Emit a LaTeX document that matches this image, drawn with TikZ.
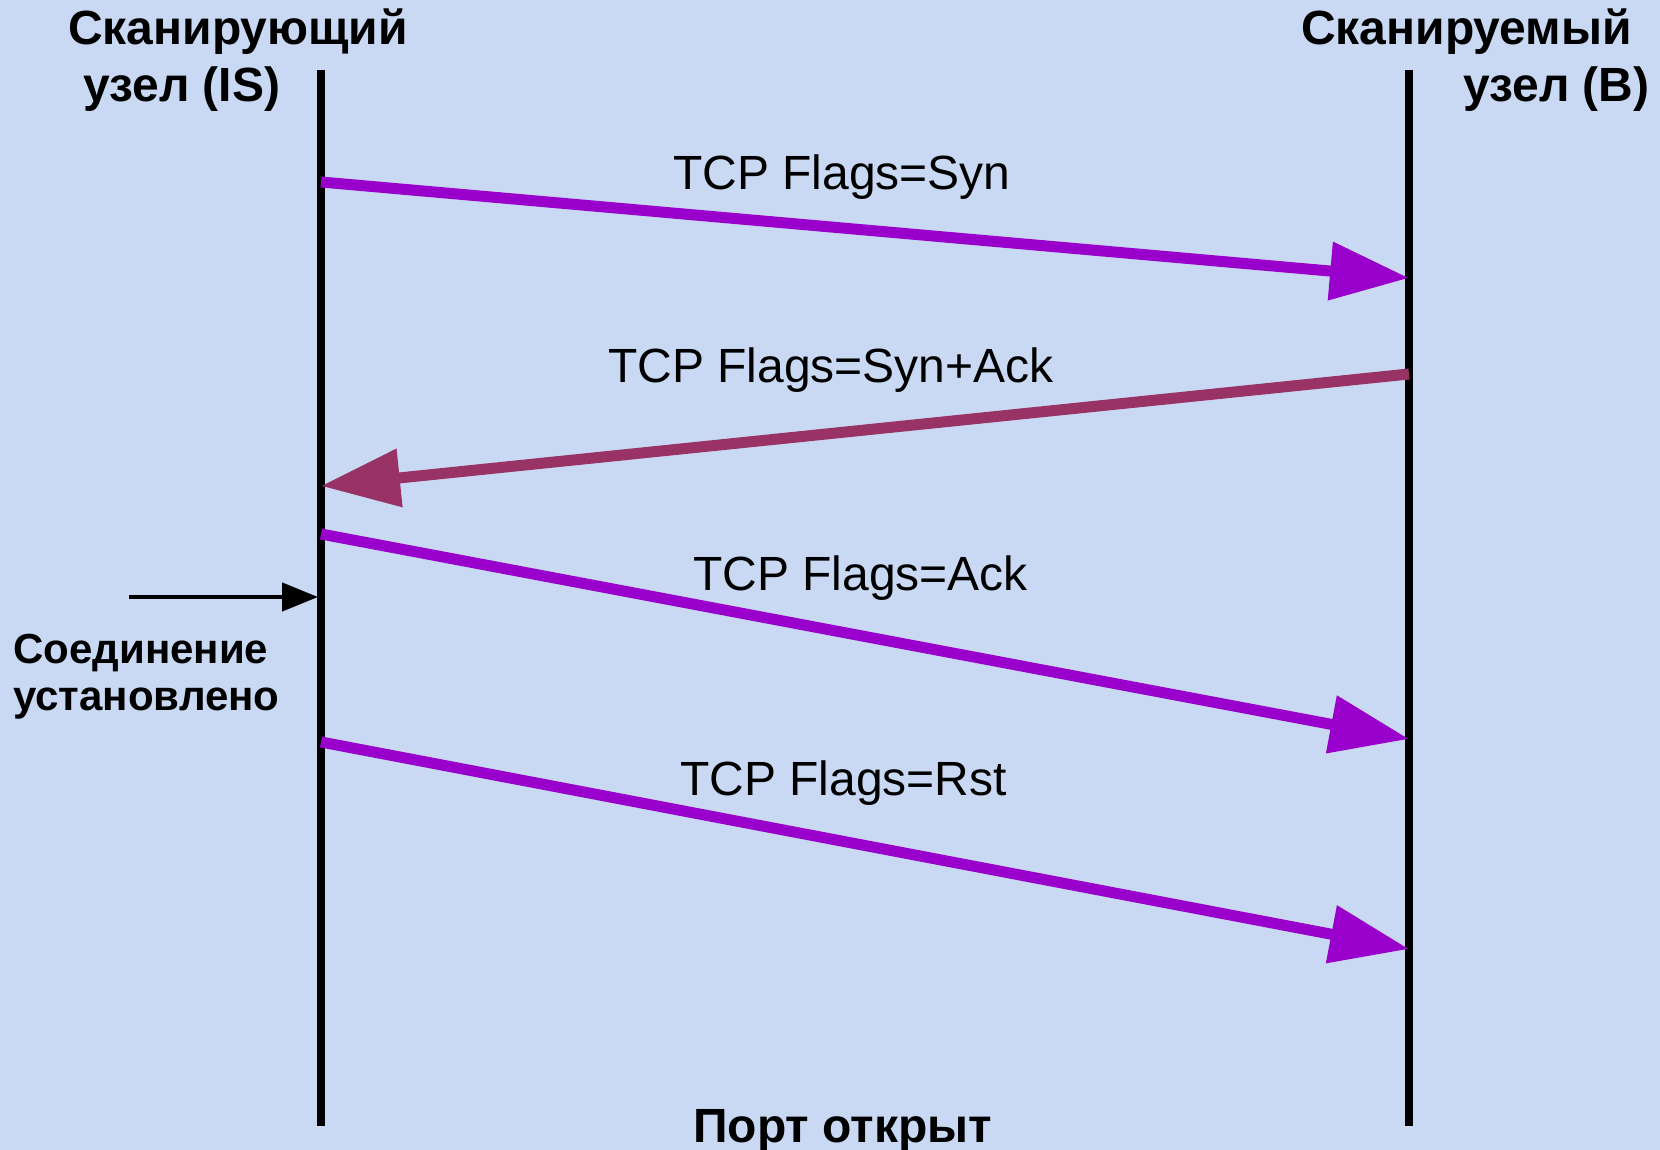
\documentclass[tikz,border=0pt]{standalone}
\usepackage{fontspec}
\setmainfont{Liberation Sans}
\usetikzlibrary{arrows.meta,positioning}

\definecolor{paper}{RGB}{201,217,243}
\definecolor{synpurple}{RGB}{153,0,204}
\definecolor{ackmaroon}{RGB}{153,51,102}

\begin{document}
\begin{tikzpicture}[x=1pt,y=-1pt]
  \tikzset{
    lifeline/.style={line width=8pt},
    msg/.style={line width=11pt,synpurple,-{Triangle[length=79pt,width=56pt]}},
    msgtext/.style={inner sep=0pt,anchor=base west,font=\fontsize{48}{48}\selectfont},
    headtext/.style={msgtext,font=\bfseries\fontsize{48}{48}\selectfont},
    sidetext/.style={inner sep=0pt,anchor=base west,align=left,
      font=\bfseries\fontsize{42}{47}\selectfont},
  }
  \fill[paper] (0,0) rectangle (1660,1150);
  \useasboundingbox (0,0) rectangle (1660,1150);

  % hosts
  \node [headtext] (scanner1) at (68,45)   {Сканирующий};
  \node [headtext] (scanner2) at (83,102)  {узел (IS)};
  \node [headtext] (target1)  at (1301,45) {Сканируемый};
  \node [headtext] (target2)  at (1463,102) {узел (B)};

  \coordinate (is top) at (321,70);
  \coordinate (is bot) at (321,1126);
  \coordinate (b top)  at (1409,70);
  \coordinate (b bot)  at (1409,1126);
  \draw [lifeline] (is top) -- (is bot);
  \draw [lifeline] (b top) -- (b bot);

  % handshake
  \coordinate (syn out)    at (321,182);
  \coordinate (syn in)     at (1409,278);
  \coordinate (synack out) at (1409,374);
  \coordinate (synack in)  at (321,486);
  \coordinate (ack out)    at (321,534);
  \coordinate (ack in)     at (1409,739);
  \coordinate (rst out)    at (321,742);
  \coordinate (rst in)     at (1409,949);

  \draw [msg] (syn out) -- (syn in);
  \draw [msg,ackmaroon] (synack out) -- (synack in);
  \draw [msg] (ack out) -- (ack in);
  \draw [msg] (rst out) -- (rst in);

  \node [msgtext] (syn)    at (673,190) {TCP Flags=Syn};
  \node [msgtext] (synack) at (608,382) {TCP Flags=Syn+Ack};
  \node [msgtext] (ack)    at (693,590) {TCP Flags=Ack};
  \node [msgtext] (rst)    at (680,795) {TCP Flags=Rst};

  % connection mark
  \coordinate (conn)     at (129,597);
  \coordinate (conn end) at (318,597);
  \draw [line width=4.5pt,-{Triangle[length=36pt,width=28pt]}] (conn) -- (conn end);
  \node [sidetext] (established) at (13,710) {Соединение\\установлено};

  \node [headtext] (open) at (693,1142) {Порт открыт};
\end{tikzpicture}
\end{document}
